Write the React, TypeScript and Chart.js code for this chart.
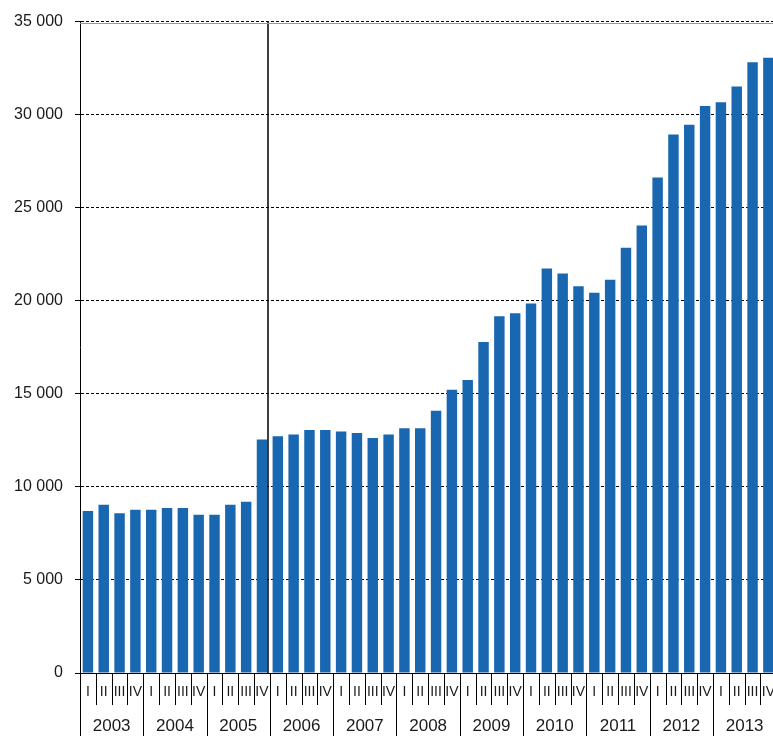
import React, { useEffect, useRef } from 'react';
import { Chart, registerables } from 'chart.js';

Chart.register(...registerables);

const years = ['2003', '2004', '2005', '2006', '2007', '2008', '2009', '2010', '2011', '2012', '2013'];
const quarters = ['I', 'II', 'III', 'IV'];
const categories = years.flatMap((y) => quarters.map((q) => `${y} ${q}`));
const quarterLabels = years.flatMap(() => quarters);

const values = [
  8700, 9040, 8590, 8770,
  8770, 8860, 8860, 8500,
  8500, 9040, 9200, 12540,
  12720, 12810, 13060, 13060,
  12970, 12900, 12630, 12810,
  13150, 13150, 14090, 15220,
  15740, 17780, 19170, 19330,
  19850, 21740, 21470, 20780,
  20430, 21130, 22850, 24040,
  26620, 28940, 29460, 30470,
  30670, 31510, 32810, 33060,
];

const yTicks = [0, 5000, 10000, 15000, 20000, 25000, 30000, 35000];
const breakAfter = '2005 IV';

const FONT = '"Liberation Sans", Arial, sans-serif';
const TEXT = '#1a1a1a';
const BAR = '#1867b0';

const fmt = (v: number) => String(v).replace(/\B(?=(\d{3})+(?!\d))/g, ' ');

const linesPlugin = {
  id: 'quarterYearLines',
  afterDraw(chart: any) {
    const ctx = chart.ctx;
    const xs = chart.scales.x;
    const area = chart.chartArea;
    const n = categories.length;
    const boundary = (i: number) => {
      if (i <= 0) return xs.left;
      if (i >= n) return xs.right;
      return (xs.getPixelForValue(i - 1) + xs.getPixelForValue(i)) / 2;
    };
    const line = (x1: number, y1: number, x2: number, y2: number) => {
      ctx.beginPath();
      ctx.moveTo(x1, y1);
      ctx.lineTo(x2, y2);
      ctx.stroke();
    };
    ctx.save();
    ctx.strokeStyle = '#000';
    ctx.lineWidth = 1;
    for (let i = 0; i <= n; i++) {
      const bx = Math.round(boundary(i)) + 0.5;
      const isYear = i % 4 === 0;
      line(bx, area.bottom, bx, isYear ? chart.height : area.bottom + 32);
    }
    const bi = categories.indexOf(breakAfter) + 1;
    ctx.lineWidth = 1.5;
    const bx = Math.round(boundary(bi)) - 2;
    line(bx, area.top, bx, area.bottom);
    ctx.strokeStyle = '#999';
    ctx.lineWidth = 1;
    line(area.left, Math.round(area.top) + 1.5, area.right, Math.round(area.top) + 1.5);
    ctx.restore();
  },
};

export default function App() {
  const ref = useRef<HTMLCanvasElement | null>(null);

  useEffect(() => {
    document.body.style.margin = '0';
    if (!ref.current) return;
    const chart = new Chart(ref.current, {
      type: 'bar',
      data: {
        labels: categories,
        datasets: [
          {
            data: values,
            backgroundColor: BAR,
            borderWidth: 0,
            categoryPercentage: 1,
            barPercentage: 0.66,
            xAxisID: 'x',
            yAxisID: 'y',
          },
        ],
      },
      options: {
        animation: false,
        responsive: false,
        maintainAspectRatio: false,
        layout: { padding: { top: 20, left: 0, right: 0, bottom: 0 } },
        plugins: {
          legend: { display: false },
          tooltip: { enabled: false },
          title: { display: false },
        },
        scales: {
          x: {
            type: 'category',
            position: 'bottom',
            weight: 0,
            offset: true,
            grid: { display: false, drawTicks: false },
            border: { display: true, color: '#000', width: 1 },
            ticks: {
              autoSkip: false,
              maxRotation: 0,
              minRotation: 0,
              padding: 11,
              color: TEXT,
              font: { family: FONT, size: 14 },
              callback: (_v: any, i: number) => quarterLabels[i],
            },
            afterFit: (s: any) => {
              s.height = 36;
            },
          },
          x2: {
            type: 'category',
            position: 'bottom',
            weight: 1,
            labels: years,
            offset: true,
            grid: { display: false, drawTicks: false },
            border: { display: false },
            ticks: {
              autoSkip: false,
              maxRotation: 0,
              minRotation: 0,
              padding: 7,
              color: TEXT,
              font: { family: FONT, size: 17 },
            },
            afterFit: (s: any) => {
              s.height = 27;
            },
          },
          y: {
            type: 'linear',
            min: 0,
            max: 35000,
            afterBuildTicks: (s: any) => {
              s.ticks = yTicks.map((v) => ({ value: v }));
            },
            grid: {
              color: '#000',
              lineWidth: 1,
              drawTicks: true,
              tickLength: 5,
              tickColor: '#000',
              tickBorderDash: [],
            },
            border: { display: true, color: '#000', width: 1, dash: [3, 2] },
            ticks: {
              padding: 12,
              color: TEXT,
              font: { family: FONT, size: 16 },
              callback: (v: any) => fmt(Number(v)),
            },
            afterFit: (s: any) => {
              s.width = 80;
            },
          },
        },
      },
      plugins: [linesPlugin],
    });
    return () => chart.destroy();
  }, []);

  return (
    <div style={{ width: 773, height: 736, overflow: 'hidden', position: 'relative' }}>
      <canvas ref={ref} width={786} height={736} style={{ display: 'block' }} />
    </div>
  );
}
